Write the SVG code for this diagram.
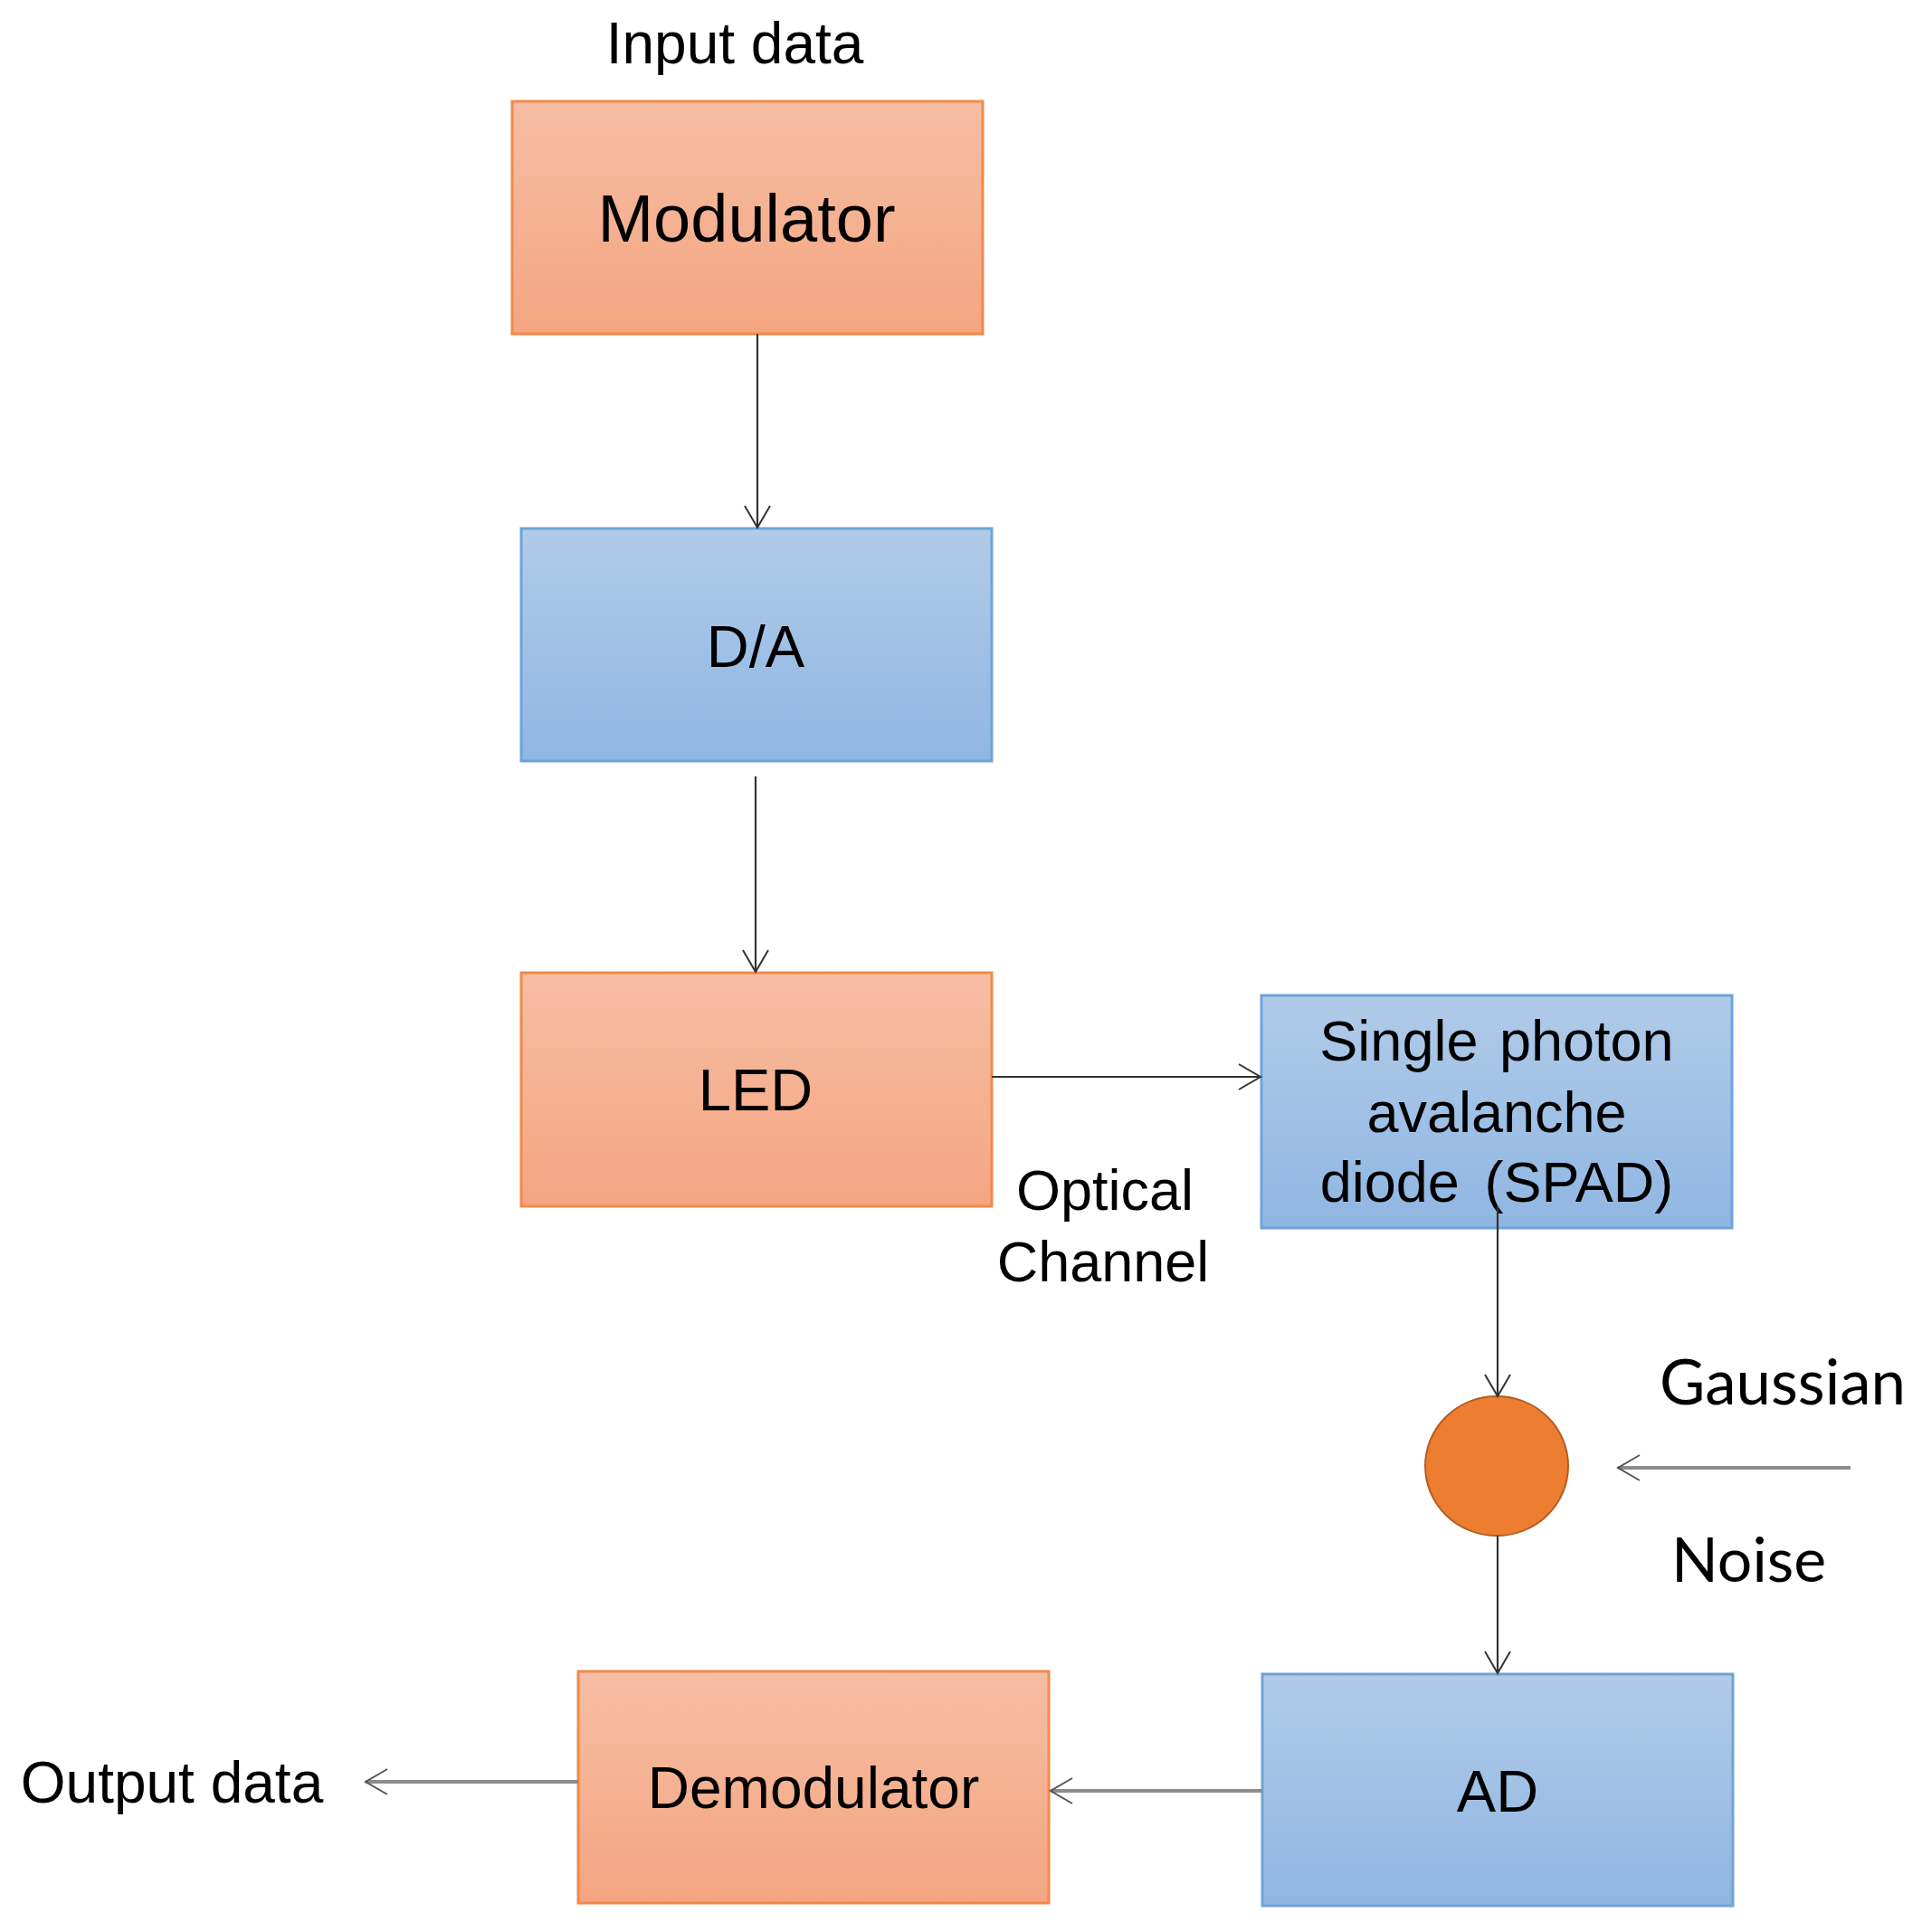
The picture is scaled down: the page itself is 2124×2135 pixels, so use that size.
<svg xmlns="http://www.w3.org/2000/svg" width="2124" height="2135" viewBox="0 0 2124 2135">
  <defs>
    <linearGradient id="gOrange" x1="0" y1="0" x2="0" y2="1">
      <stop offset="0" stop-color="#F6BEA4"/>
      <stop offset="1" stop-color="#F4A581"/>
    </linearGradient>
    <linearGradient id="gBlue" x1="0" y1="0" x2="0" y2="1">
      <stop offset="0" stop-color="#B1CBE9"/>
      <stop offset="1" stop-color="#8FB6E2"/>
    </linearGradient>
    <marker id="arrDark" markerUnits="userSpaceOnUse" markerWidth="30" markerHeight="32" refX="25" refY="15" orient="auto" viewBox="0 0 30 30">
      <path d="M1,1 L25,15 L1,29" fill="none" stroke="#333333" stroke-width="2"/>
    </marker>
    <marker id="arrGray" markerUnits="userSpaceOnUse" markerWidth="30" markerHeight="32" refX="25" refY="15" orient="auto" viewBox="0 0 30 30">
      <path d="M1,1 L25,15 L1,29" fill="none" stroke="#555555" stroke-width="2"/>
    </marker>
  </defs>
  <style>
    .orange { fill: url(#gOrange); stroke: #F08A4B; stroke-width: 3; }
    .blue { fill: url(#gBlue); stroke: #6FA3D9; stroke-width: 3; }
    .lbl { font-family: "Liberation Sans", Arial, sans-serif; fill: #000; text-anchor: middle; }
    .cal { font-family: Lato, "Open Sans", sans-serif; fill: #000; }
    .dark { stroke: #333333; stroke-width: 2.2; fill: none; marker-end: url(#arrDark); }
    .gray { stroke: #8C8C8C; stroke-width: 4; fill: none; marker-end: url(#arrGray); }
  </style>
  <rect width="2124" height="2135" fill="#ffffff"/>

  <g id="input-label">
    <text class="lbl" x="812" y="70" font-size="64">Input data</text>
  </g>

  <g id="modulator">
    <rect class="orange" x="566" y="112" width="520" height="257"/>
    <text class="lbl" x="825" y="267" font-size="74">Modulator</text>
  </g>

  <g id="da">
    <rect class="blue" x="576" y="584" width="520" height="257"/>
    <text class="lbl" x="835" y="737" font-size="65">D/A</text>
  </g>

  <g id="led">
    <rect class="orange" x="576" y="1075" width="520" height="258"/>
    <text class="lbl" x="835" y="1227" font-size="65">LED</text>
  </g>

  <g id="optical-channel-label">
    <text class="lbl" x="1221" y="1337" font-size="63">Optical</text>
    <text class="lbl" x="1219" y="1416" font-size="63">Channel</text>
  </g>

  <g id="spad">
    <rect class="blue" x="1394" y="1100" width="520" height="257"/>
    <text class="lbl" x="1654" y="1172" font-size="63" word-spacing="6">Single photon</text>
    <text class="lbl" x="1654" y="1251" font-size="63">avalanche</text>
    <text class="lbl" x="1654" y="1328" font-size="63" word-spacing="10">diode (SPAD)</text>
  </g>

  <g id="adder">
    <ellipse cx="1654" cy="1620" rx="79" ry="77" fill="#ED7D31" stroke="#B55D24" stroke-width="2"/>
  </g>

  <g id="noise-label">
    <text class="cal" x="1834" y="1552" font-size="69">Gaussian</text>
    <text class="cal" x="1847" y="1748" font-size="68">Noise</text>
  </g>

  <g id="ad">
    <rect class="blue" x="1395" y="1850" width="520" height="256"/>
    <text class="lbl" x="1655" y="2002" font-size="65">AD</text>
  </g>

  <g id="demodulator">
    <rect class="orange" x="639" y="1847" width="520" height="256"/>
    <text class="lbl" x="899" y="1998" font-size="64">Demodulator</text>
  </g>

  <g id="output-label">
    <text class="lbl" x="190" y="1992" font-size="64">Output data</text>
  </g>

  <g id="connectors">
    <line class="dark" x1="837" y1="369" x2="837" y2="583"/>
    <line class="dark" x1="835" y1="858" x2="835" y2="1074"/>
    <line class="dark" x1="1096" y1="1190" x2="1393" y2="1190"/>
    <line class="dark" x1="1655" y1="1333" x2="1655" y2="1543"/>
    <line class="dark" x1="1655" y1="1697" x2="1655" y2="1849"/>
    <line class="gray" x1="2045" y1="1622" x2="1788" y2="1622"/>
    <line class="gray" x1="1395" y1="1979" x2="1161" y2="1979"/>
    <line class="gray" x1="639" y1="1969" x2="404" y2="1969"/>
  </g>
</svg>
